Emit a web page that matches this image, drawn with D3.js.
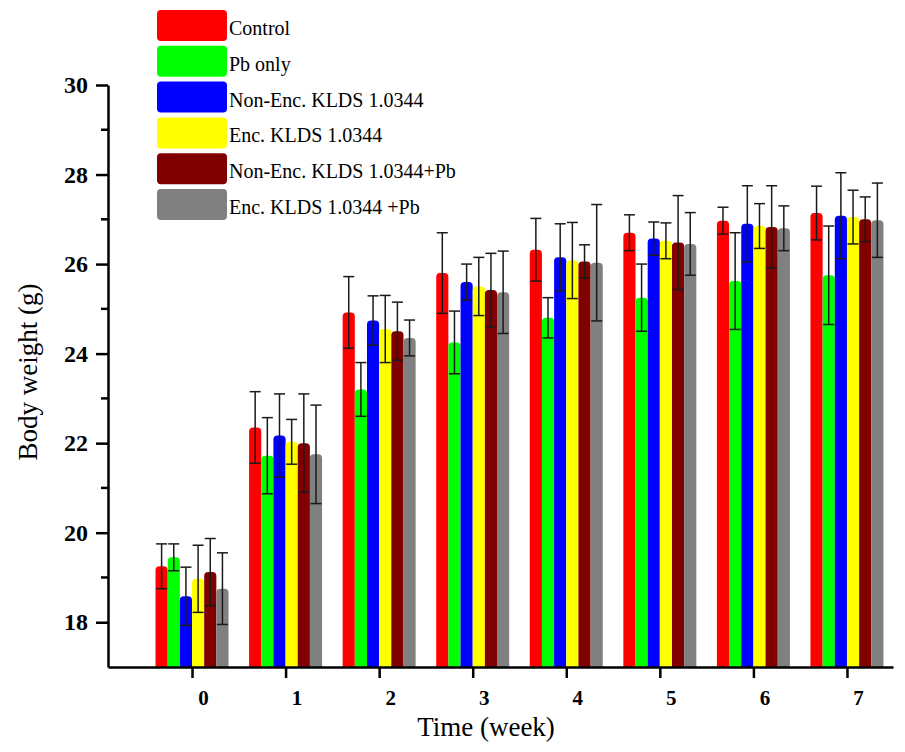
<!DOCTYPE html>
<html>
<head>
<meta charset="utf-8">
<style>
  body { margin: 0; background: #fff; }
  svg { display: block; font-family: "Liberation Serif", "Times New Roman", serif; }
</style>
</head>
<body>
<svg id="chart"></svg>
<script src="https://cdn.jsdelivr.net/npm/d3@7"></script>
<script>

var weeks = [0, 1, 2, 3, 4, 5, 6, 7];
var groups = ['Control', 'Pb only', 'Non-Enc. KLDS 1.0344', 'Enc. KLDS 1.0344',
              'Non-Enc. KLDS 1.0344+Pb', 'Enc. KLDS 1.0344 +Pb'];
var colors = ['#ff0000', '#00ff00', '#0000ff', '#ffff00', '#800000', '#808080'];

// mean body weight (g) per group, week 0..7
var control    = [19.25, 22.35, 24.92, 25.80, 26.32, 26.70, 26.97, 27.14];
var pbOnly     = [19.45, 21.72, 23.20, 24.25, 24.80, 25.25, 25.62, 25.75];
var nonEnc     = [18.58, 22.17, 24.74, 25.60, 26.15, 26.57, 26.90, 27.08];
var enc        = [18.97, 22.03, 24.55, 25.50, 26.08, 26.52, 26.85, 27.05];
var nonEncPb   = [19.12, 22.00, 24.50, 25.42, 26.06, 26.48, 26.83, 27.00];
var encPb      = [18.75, 21.75, 24.35, 25.37, 26.03, 26.45, 26.80, 26.98];

// standard deviations
var controlErr  = [0.50, 0.80, 0.80, 0.90, 0.70, 0.40, 0.30, 0.60];
var pbOnlyErr   = [0.30, 0.85, 0.60, 0.70, 0.45, 0.75, 1.08, 1.10];
var nonEncErr   = [0.65, 0.93, 0.55, 0.40, 0.75, 0.37, 0.85, 0.96];
var encErr      = [0.75, 0.50, 0.75, 0.65, 0.85, 0.40, 0.50, 0.60];
var nonEncPbErr = [0.75, 1.10, 0.65, 0.82, 0.37, 1.05, 0.92, 0.50];
var encPbErr    = [0.80, 1.10, 0.40, 0.92, 1.30, 0.70, 0.50, 0.83];

var yMajor = [18, 20, 22, 24, 26, 28, 30];
var yMinor = [19, 21, 23, 25, 27, 29];

var means = [control, pbOnly, nonEnc, enc, nonEncPb, encPb];
var errs = [controlErr, pbOnlyErr, nonEncErr, encErr, nonEncPbErr, encPbErr];

var svg = d3.select('#chart').attr('width', 905).attr('height', 752);

var x = d3.scaleLinear().domain([-0.898, 7.492]).range([108, 893]);
var xSub = d3.scaleBand().domain(d3.range(groups.length)).range([-36.5, 36.5]);
var y = d3.scaleLinear().domain([17, 30]).range([667, 85]);

var data = [];
weeks.forEach(function(w, i){
    groups.forEach(function(g, j){
        data.push({week: w, g: j, v: means[j][i], e: errs[j][i]});
    });
});

function barPath(d){
    var x0 = x(d.week) + xSub(d.g), bw = xSub.bandwidth(), r = 4;
    var top = y(d.v), bot = y(17);
    return 'M' + x0 + ',' + bot +
        'V' + (top + r) +
        'Q' + x0 + ',' + top + ' ' + (x0 + r) + ',' + top +
        'H' + (x0 + bw - r) +
        'Q' + (x0 + bw) + ',' + top + ' ' + (x0 + bw) + ',' + (top + r) +
        'V' + bot + 'Z';
}

svg.append('g').selectAll('path')
    .data(data)
    .enter().append('path')
    .attr('d', barPath)
    .style('fill', function(d){ return colors[d.g]; });

// error bars
var eb = svg.append('g').selectAll('g')
    .data(data)
    .enter().append('g')
    .attr('transform', function(d){ return 'translate(' + (x(d.week) + xSub(d.g) + xSub.bandwidth() / 2) + ',0)'; })
    .style('stroke', '#1a1a1a')
    .style('stroke-width', 1.5);

eb.append('line')
    .attr('y1', function(d){ return y(d.v + d.e); })
    .attr('y2', function(d){ return y(d.v - d.e); });
eb.append('line')
    .attr('x1', -5.5).attr('x2', 5.5)
    .attr('y1', function(d){ return y(d.v + d.e); })
    .attr('y2', function(d){ return y(d.v + d.e); });
eb.append('line')
    .attr('x1', -5.5).attr('x2', 5.5)
    .attr('y1', function(d){ return y(d.v - d.e); })
    .attr('y2', function(d){ return y(d.v - d.e); });

// x axis
var xAxis = svg.append('g')
    .attr('transform', 'translate(0,' + y(17) + ')')
    .call(d3.axisBottom(x).tickValues(weeks).tickSize(11).tickSizeOuter(0).tickPadding(12));
xAxis.select('.domain').style('stroke-width', 2.5);
xAxis.selectAll('.tick line').style('stroke-width', 2.5);
xAxis.selectAll('.tick text')
    .attr('dx', 11)
    .style('font-family', '"Liberation Serif", serif')
    .style('font-weight', 'bold')
    .style('font-size', '21px')
    .style('fill', '#000');

// y axis
var yAxis = svg.append('g')
    .attr('transform', 'translate(108,0)')
    .call(d3.axisLeft(y).tickValues(yMajor).tickSize(12).tickSizeOuter(0).tickPadding(8));
yAxis.select('.domain').style('stroke-width', 2.5);
yAxis.selectAll('.tick line').style('stroke-width', 2.5);
yAxis.selectAll('.tick text')
    .style('font-family', '"Liberation Serif", serif')
    .style('font-weight', 'bold')
    .style('font-size', '24px')
    .style('fill', '#000');

svg.append('g').selectAll('line')
    .data(yMinor)
    .enter().append('line')
    .attr('x1', 101).attr('x2', 108)
    .attr('y1', function(d){ return y(d); })
    .attr('y2', function(d){ return y(d); })
    .style('stroke', '#000')
    .style('stroke-width', 2.5);

// axis titles
svg.append('text')
    .attr('x', 486).attr('y', 736)
    .attr('text-anchor', 'middle')
    .style('font-size', '27px')
    .text('Time (week)');

svg.append('text')
    .attr('transform', 'translate(37,372) rotate(-90)')
    .attr('text-anchor', 'middle')
    .style('font-size', '27px')
    .text('Body weight (g)');

// legend
var legend = svg.append('g').selectAll('g')
    .data(groups)
    .enter().append('g')
    .attr('transform', function(d, i){ return 'translate(157,' + (10 + i * 35.8) + ')'; });

legend.append('rect')
    .attr('width', 70).attr('height', 31)
    .attr('rx', 4).attr('ry', 4)
    .style('fill', function(d, i){ return colors[i]; });

legend.append('text')
    .attr('x', 72).attr('y', 25)
    .style('font-size', '20px')
    .text(function(d){ return d; });

</script>
</body>
</html>
